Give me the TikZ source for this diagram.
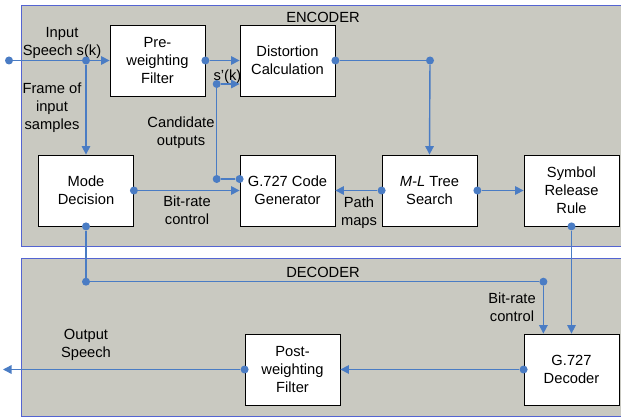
\documentclass[tikz,border=0pt]{standalone}
\usepackage{fontspec}
\setmainfont{Liberation Sans}
\usetikzlibrary{arrows.meta,calc}
\definecolor{regionbg}{RGB}{201,201,193}
\definecolor{regionedge}{RGB}{84,100,210}
\definecolor{flow}{RGB}{74,124,196}
\begin{document}
\begin{tikzpicture}[x=1pt,y=-1pt,
  font=\fontsize{14.7}{18}\selectfont,
  block/.style={draw=black,line width=0.8pt,fill=white,align=center,minimum width=95pt,minimum height=71pt,inner sep=0pt},
  lbl/.style={align=center,inner sep=0pt},
  flowline/.style={draw=flow,line width=1.4pt},
  arr/.style={flowline,-{Triangle[length=8.5pt,width=8.5pt]}},
  dot/.style={circle,fill=flow,inner sep=0pt,minimum size=8pt},
  region/.style={fill=regionbg,draw=regionedge,line width=0.8pt}]
\useasboundingbox (0,0) rectangle (621,420);
\path[region] (21,5) rectangle (626,246);
\path[region] (21,258) rectangle (626,416);

% blocks
\node[block] (pre)  at (157.5,60.5) {Pre-\\weighting\\Filter};
\node[block] (dist) at (287.5,60.5) {Distortion\\Calculation};
\node[block] (mode) at (86,190.5) {Mode\\Decision};
\node[block] (gen)  at (287.5,190.5) {G.727 Code\\Generator};
\node[block] (tree) at (429.5,190.5) {\textit{M-L} Tree\\Search};
\node[block] (sym)  at (571.5,190.5) {Symbol\\Release\\Rule};
\node[block] (post) at (292.5,369.5) {Post-\\weighting\\Filter};
\node[block] (dec)  at (571.5,369.5) {G.727\\Decoder};

% labels
\node[lbl] at (323,17) {ENCODER};
\node[lbl] at (323,272) {DECODER};
\node[lbl] at (62,43) {Input\\Speech s(k)};
\node[lbl] at (52,108) {Frame of\\input\\samples};
\node[lbl] at (181,133) {Candidate\\outputs};
\node[lbl] at (187,210.5) {Bit-rate\\control};
\node[lbl] at (359,212.5) {Path\\maps};
\node[lbl] at (227.5,77) {s'(k)};
\node[lbl] at (512,307.5) {Bit-rate\\control};
\node[lbl] at (86,345) {Output\\Speech};

% junction dots
\node[dot] (in)     at (9,60.5) {};
\node[dot] (split)  at (86,60.5) {};
\node[dot] (preout) at (pre.east) {};
\node[dot] (sp)     at (216.7,84) {};
\node[dot] (cand)   at (216.7,179) {};
\node[dot] (genin)  at (gen.west |- cand) {};
\node[dot] (modeout) at (mode.east) {};
\node[dot] (distout) at (dist.east) {};
\node[dot] (dcorner) at (430,60.5) {};
\node[dot] (treel)  at (tree.west) {};
\node[dot] (treer)  at (tree.east) {};
\node[dot] (symout) at (sym.south) {};
\node[dot] (modeb)  at (mode.south) {};
\node[dot] (bl)     at (86,281.7) {};
\node[dot] (br)     at (543.4,281.7) {};
\node[dot] (decout) at (dec.west) {};
\node[dot] (postout) at (post.west) {};
\coordinate (outend) at (3,369.5);

% connectors
\draw[arr] (in) -- (in -| pre.west);
\draw[arr] (split) -- (mode.north);
\draw[arr] (preout) -- (dist.west);
\draw[arr] (sp) -- (sp -| dist.west);
\draw[flowline] (genin) -- (cand) -- (sp);
\draw[arr] (modeout) -- (gen.west);
\draw[flowline] (distout) -- (dcorner);
\draw[arr] (dcorner) -- (tree.north);
\draw[arr] (treel) -- (gen.east);
\draw[arr] (treer) -- (sym.west);
\draw[arr] (symout) -- (symout |- dec.north);
\draw[flowline] (modeb) -- (bl) -- (br);
\draw[arr] (br) -- (br |- dec.north);
\draw[arr] (decout) -- (post.east);
\draw[arr] (postout) -- (outend);
\end{tikzpicture}
\end{document}
